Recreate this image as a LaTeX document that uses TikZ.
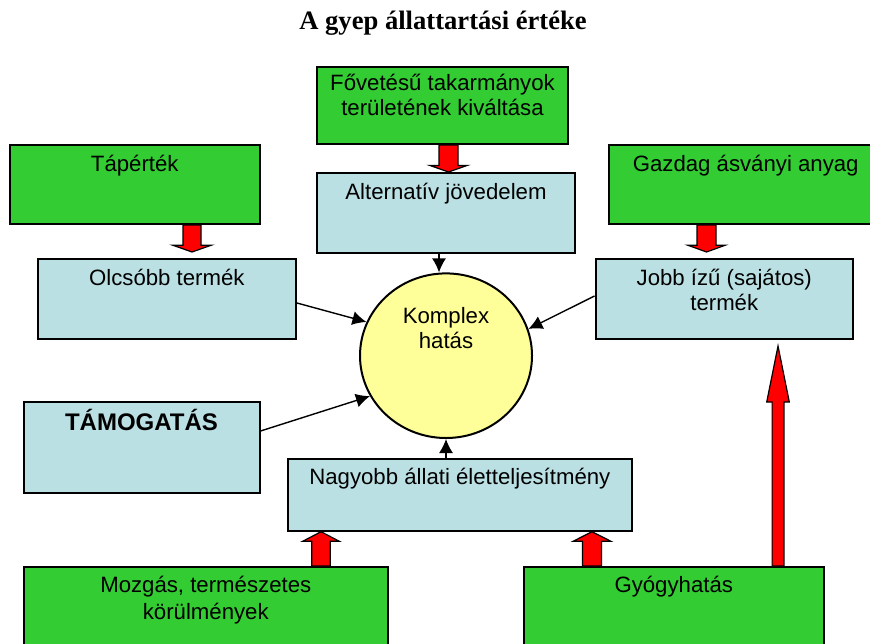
\documentclass[tikz,border=0pt]{standalone}
\usepackage{fontspec}
\setmainfont{Liberation Sans}
\newfontfamily\titlefont{Liberation Serif}
\usepackage{tikz}
\usetikzlibrary{shapes.geometric,arrows.meta,calc}

\definecolor{boxgreen}{HTML}{33CC33}
\definecolor{boxblue}{HTML}{BBE0E3}
\definecolor{hatyellow}{HTML}{FFFF99}

% fat red arrow: start, tip, half shaft, half head, head length (all in px)
\newcommand{\fatarrow}[5]{%
  \draw[fatarr] let \p1=(#1), \p2=(#2), \n1={sign(\y2-\y1)}, \n2={\y2-\n1*#5*0.5pt} in
    (\x1-#3*0.5pt,\y1) -- (\x1-#3*0.5pt,\n2) -- (\x1-#4*0.5pt,\n2) -- (\x1,\y2)
    -- (\x1+#4*0.5pt,\n2) -- (\x1+#3*0.5pt,\n2) -- (\x1+#3*0.5pt,\y1) -- cycle;}

\begin{document}
\begin{tikzpicture}[x=0.5pt, y=-0.5pt]
        % Define styles
        \tikzstyle{greenbox} = [rectangle, draw, fill=boxgreen, line width=1pt, inner sep=0pt]
        \tikzstyle{bluebox} = [rectangle, draw, fill=boxblue, line width=1pt, inner sep=0pt]
        \tikzstyle{boxtext} = [anchor=base, align=center, inner sep=0pt, font=\fontsize{11.1}{12.5}\selectfont]
        \tikzstyle{arrow} = [-{Latex[length=7pt,width=7pt]}, line width=0.7pt]
        \tikzstyle{fatarr} = [draw=black, fill=red, line width=0.6pt]

        \useasboundingbox (0,0) rectangle (870,643);
        \clip (0,0) rectangle (870,643);
        \fill[white] (0,0) rectangle (870,643);

        % Title
        \node[anchor=base, inner sep=0pt, font=\titlefont\bfseries\fontsize{13.3}{15}\selectfont] (title) at (443,29) {A gyep állattartási értéke};

        % Boxes
        \node (fov) [greenbox, minimum width=125.5pt, minimum height=38.5pt] at (442.5,105.5) {};
        \node (alt) [bluebox, minimum width=129pt, minimum height=39.75pt] at (446,212.75) {};
        \node (tap) [greenbox, minimum width=125.25pt, minimum height=39.5pt] at (134.75,184.5) {};
        \node (olc) [bluebox, minimum width=129.15pt, minimum height=40pt] at (166.85,299) {};
        \node (gaz) [greenbox, minimum width=136.7pt, minimum height=39.5pt] at (745.7,184.5) {};
        \node (jobb) [bluebox, minimum width=128.75pt, minimum height=40pt] at (724.25,299) {};
        \node (tam) [bluebox, minimum width=118pt, minimum height=45.5pt] at (141.5,447.5) {};
        \node (nagy) [bluebox, minimum width=171.85pt, minimum height=35.85pt] at (459.85,494.85) {};
        \node (moz) [greenbox, minimum width=182.25pt, minimum height=40pt] at (205.75,607) {};
        \node (gyo) [greenbox, minimum width=150.25pt, minimum height=40pt] at (673.75,607) {};
        \node (komplex) [ellipse, draw, fill=hatyellow, line width=1pt, inner sep=0pt, minimum width=86pt, minimum height=82.3pt] at (446,355.7) {};

        % Texts (base = last line)
        \node (fov-t) [boxtext] at ($(fov.north)+(0,49)$) {Fővetésű takarmányok\\területének kiváltása};
        \node (alt-t) [boxtext] at ($(alt.north)+(0,27)$) {Alternatív jövedelem};
        \node (tap-t) [boxtext] at ($(tap.north)+(0,27)$) {Tápérték};
        \node (olc-t) [boxtext] at ($(olc.north)+(0,27)$) {Olcsóbb termék};
        \node (gaz-t) [boxtext] at ($(gaz.north)+(0,27)$) {Gazdag ásványi anyag};
        \node (jobb-t) [boxtext] at ($(jobb.north)+(0,52)$) {Jobb ízű (sajátos)\\termék};
        \node (tam-t) [boxtext, font=\bfseries\fontsize{12}{14}\selectfont] at ($(tam.north)+(0,29.5)$) {TÁMOGATÁS};
        \node (nagy-t) [boxtext] at ($(nagy.north)+(0,26)$) {Nagyobb állati életteljesítmény};
        \node (moz-t) [boxtext, font=\fontsize{11.1}{13.3}\selectfont] at ($(moz.north)+(0,53)$) {Mozgás, természetes\\körülmények};
        \node (gyo-t) [boxtext] at ($(gyo.north)+(0,26.5)$) {Gyógyhatás};
        \node (komplex-t) [boxtext] at ($(komplex.center)+(0,-7.4)$) {Komplex\\hatás};

        % Connections
        \fatarrow{fov.south -| 448.5,0}{alt.north -| 448.5,0}{9.5}{18.5}{6.5}
        \fatarrow{tap.south -| 192,0}{$(olc.north -| 192,0)+(0,-6)$}{9}{19}{6.7}
        \fatarrow{gaz.south -| 706.5,0}{$(jobb.north -| 706.5,0)+(0,-6)$}{9.5}{18.5}{6.7}
        \fatarrow{moz.north -| 321,0}{nagy.south -| 321,0}{9.2}{18.2}{9.5}
        \fatarrow{gyo.north -| 592,0}{nagy.south -| 592,0}{9.5}{18.8}{9.5}
        \fatarrow{gyo.north -| 778,0}{$(jobb.south -| 778,0)+(0,6)$}{5.9}{11.3}{56}

        \draw[arrow] (alt.south -| 439,0) -- (komplex.north -| 439,0);
        \draw[arrow] (olc.east |- 0,303) -- (komplex.157);
        \draw[arrow] (jobb.west |- 0,296) -- (komplex.18);
        \draw[arrow] (tam.east |- 0,431) -- (komplex.208);
        \draw[arrow] (komplex.south |- nagy.north) -- (komplex.south);

\end{tikzpicture}
\end{document}
